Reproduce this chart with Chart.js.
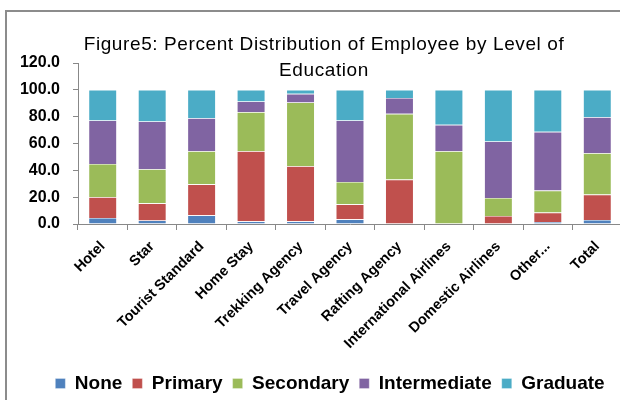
<!DOCTYPE html>
<html lang="en">
<head>
<meta charset="UTF-8">
<title>Percent Distribution of Employee by Level of Education</title>
<script src="https://cdn.jsdelivr.net/npm/chart.js"></script>
<style>
    body {
        margin: 0;
        width: 620px;
        height: 400px;
        overflow: hidden;
        background: #fff;
        font-family: "Liberation Sans", Arial, sans-serif;
        position: relative;
    }
    .frame {
        position: absolute;
        left: 5px;
        top: 10px;
        width: 680px;
        height: 440px;
        border: 2px solid #8c8c8c;
    }
    .title {
        position: absolute;
        left: 64px;
        width: 520px;
        top: 31px;
        text-align: center;
        font-size: 19px;
        letter-spacing: 0.6px;
        line-height: 26px;
        color: #000;
    }
    #grafico {
        position: absolute;
        left: 0;
        top: 0;
    }
</style>
</head>
<body>
    <div class="frame"></div>
    <canvas id="grafico" width="680" height="400"></canvas>
    <div class="title">Figure5: Percent Distribution of Employee by Level of<br>Education</div>

<script>
    // categorias e percentuais por nível de escolaridade
    const categorias = ["Hotel", "Star", "Tourist Standard", "Home Stay", "Trekking Agency",
        "Travel Agency", "Rafting Agency", "International Airlines", "Domestic Airlines", "Other...", "Total"];

    const none         = [4.5, 2.7, 6.5, 2.0, 2.0, 3.5, 0.0, 0.0, 0.0, 1.5, 3.0];
    const primary      = [15.6, 12.7, 23.1, 52.3, 41.1, 11.2, 33.1, 0.0, 6.0, 7.0, 18.9];
    const secondary    = [24.7, 25.4, 24.7, 29.1, 47.5, 16.6, 49.0, 54.3, 13.4, 16.4, 30.9];
    const intermediate = [32.4, 35.6, 24.6, 7.9, 6.4, 45.9, 11.9, 19.6, 42.1, 43.8, 26.8];
    const graduate     = [22.8, 23.6, 21.1, 8.7, 3.0, 22.8, 6.0, 26.1, 38.5, 31.3, 20.4];

    const yTicks = [0, 20, 40, 60, 80, 100, 120];

    const fonte = "'Liberation Sans', Arial, sans-serif";

    function serie(label, data, cor) {
        return {
            label: label,
            data: data,
            backgroundColor: cor,
            borderColor: "rgba(255,255,255,0.5)",
            borderWidth: 0.6,
            categoryPercentage: 1.0,
            barPercentage: 0.57
        };
    }

    // desloca a legenda um pouco para a direita e para baixo
    const moverLegenda = {
        id: "moverLegenda",
        afterLayout(chart) {
            chart.legend.left += 19;
            chart.legend.right += 19;
            chart.legend.top += 3;
            chart.legend.bottom += 3;
        }
    };

    const ctx = document.getElementById("grafico").getContext("2d");
    const grafico = new Chart(ctx, {
        type: "bar",
        data: {
            labels: categorias,
            datasets: [
                serie("None", none, "#4F81BD"),
                serie("Primary", primary, "#C0504D"),
                serie("Secondary", secondary, "#9BBB59"),
                serie("Intermediate", intermediate, "#8064A2"),
                serie("Graduate", graduate, "#4BACC6")
            ]
        },
        options: {
            responsive: false,
            animation: false,
            layout: { padding: { left: 0, right: 58, top: 63, bottom: 0 } },
            plugins: {
                title: { display: false },
                tooltip: { enabled: false },
                legend: {
                    position: "bottom",
                    labels: {
                        boxWidth: 10,
                        boxHeight: 10,
                        padding: 10,
                        color: "#000",
                        font: { family: fonte, size: 19, weight: "bold" }
                    }
                }
            },
            scales: {
                x: {
                    stacked: true,
                    afterFit(scale) { scale.height = 137; },
                    grid: { drawOnChartArea: false, drawTicks: true, tickLength: 6, color: "#888" },
                    border: { display: true, color: "#888", width: 1 },
                    ticks: {
                        minRotation: 45,
                        maxRotation: 45,
                        autoSkip: false,
                        color: "#000",
                        padding: 8,
                        font: { family: fonte, size: 14.5, weight: "bold" }
                    }
                },
                y: {
                    stacked: true,
                    min: 0,
                    max: 120,
                    afterFit(scale) { scale.width = 78; },
                    afterBuildTicks(scale) { scale.ticks = yTicks.map(v => ({ value: v })); },
                    grid: { drawOnChartArea: false, drawTicks: true, tickLength: 5, color: "#888" },
                    border: { display: true, color: "#888", width: 1 },
                    ticks: {
                        color: "#000",
                        padding: 13,
                        callback: v => v.toFixed(1),
                        font: { family: fonte, size: 16, weight: "bold" }
                    }
                }
            }
        },
        plugins: [moverLegenda]
    });
</script>
</body>
</html>
